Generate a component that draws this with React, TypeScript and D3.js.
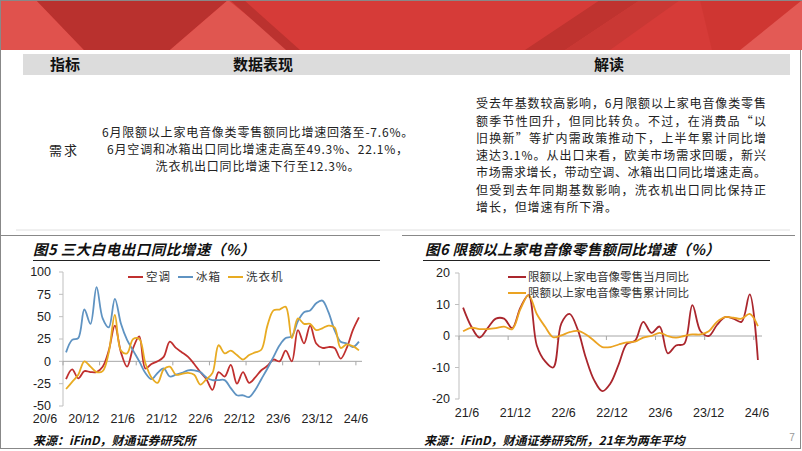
import React from "react";
import * as d3 from "d3";

// ---------- data ----------
const xTicks1 = ["20/6", "20/12", "21/6", "21/12", "22/6", "22/12", "23/6", "23/12", "24/6"];
const yTicks1 = [-50, -25, 0, 25, 50, 75, 100];
const seriesNames1 = ["空调", "冰箱", "洗衣机"];
// monthly, 2020/6 .. 2024/6
const airCon = [-20, -9, -19, -11, -12, -12, -6, 12, 40, 10, -6, 15, 28, -8, -3, 0, 5, 22, 15, 10, 5, -3, -12, -20, -32, -12, -17, -4, -25, -12, -24, -18, -10, -5, 2, 0, 12, 0, 35, 20, 40, 20, 15, 16, 15, 3, 15, 35, 49.3];
const fridge = [10, 24, 26, 58, 42, 83, 48, 38, 70, 42, 24, 12, 0, -13, -20, -13, -8, -17, -15, -13, -10, -10, -12, -18, -21, -21, -21, -30, -38, -38, -40, -32, -20, -8, 5, 18, 26, 28, 45, 55, 57, 65, 68, 55, 35, 22, 20, 16, 22.1];
const washer = [-31, -23, -15, 0, -6, -12, -11, 10, 52, 12, 9, 25, 25, -2, -18, -24, -9, -6, -15, -14, -13, -15, -26, -20, -13, 18, 9, 12, 7, 2, 7, 10, 13, 40, 57, 58, 61, 26, 48, 42, 42, 35, 37, 40, 38, 15, 19, 17, 12.3];

const xTicks2 = ["21/6", "21/12", "22/6", "22/12", "23/6", "23/12", "24/6"];
const yTicks2 = [-20, -10, 0, 10, 20];
const seriesNames2 = ["限额以上家电音像零售当月同比", "限额以上家电音像零售累计同比"];
// monthly, 2021/6 .. 2024/6
const retailMonthly = [9, 3, -0.5, 2.5, 5.5, 5.5, 2.5, 9, 13, -3, -8, -10, 4, 7, 2, -7, -14, -17.5, -15, -9, -2.5, -1.5, 4.5, 1, 3, -5.5, -3, -2.5, 9.8, 1.5, 0, 3.5, 6, 5.5, 4.5, 13.2, -7.6];
const retailCum = [1.5, 2.6, 2.2, 2.2, 2.5, 3, 2.2, 8.5, 13, 7, 3, -0.4, 0.2, 1.2, 1.6, 0.5, -1.5, -3.5, -3.5, -2.7, -2, -1.8, -0.5, 0, 1, 0, -0.5, 0, 0.5, 0.5, 1.5, 4.5, 6, 5.8, 5.5, 7, 3.1];

// ---------- text ----------
const headerCells = ["指标", "数据表现", "解读"];
const midLines = [
  "6月限额以上家电音像类零售额同比增速回落至-7.6%。",
  "6月空调和冰箱出口同比增速走高至49.3%、22.1%，",
  "洗衣机出口同比增速下行至12.3%。",
];
const rightLines = [
  "受去年基数较高影响，6月限额以上家电音像类零售",
  "额季节性回升，但同比转负。不过，在消费品“以",
  "旧换新”等扩内需政策推动下，上半年累计同比增",
  "速达3.1%。从出口来看，欧美市场需求回暖，新兴",
  "市场需求增长，带动空调、冰箱出口同比增速走高。",
  "但受到去年同期基数影响，洗衣机出口同比保持正",
  "增长，但增速有所下滑。",
];

const CJK = "'Noto Sans CJK SC', 'Noto Sans', sans-serif";
const NUM = "'Liberation Sans', Arial, sans-serif";
const RED1 = "#c0302f";
const BLUE1 = "#5f93c2";
const GOLD1 = "#e8ab22";
const RED2 = "#aa262d";
const GOLD2 = "#eba322";

function Chart1() {
  const n = airCon.length;
  const x = d3.scaleLinear().domain([0, n]).range([63, 362]);
  const xl = d3.scaleLinear().domain([0, xTicks1.length - 1]).range([45, 356]);
  const y = d3.scaleLinear().domain([-50, 100]).range([406, 272]);
  const line = d3
    .line<number>()
    .x((_, i) => x(i + 0.5))
    .y((d) => y(d))
    .curve(d3.curveCatmullRom.alpha(0.5));
  const series = [
    { name: seriesNames1[0], data: airCon, color: RED1 },
    { name: seriesNames1[1], data: fridge, color: BLUE1 },
    { name: seriesNames1[2], data: washer, color: GOLD1 },
  ];
  const legendX = [128, 178, 228];
  return (
    <g>
      <line x1={63} x2={63} y1={y(100)} y2={y(-50)} stroke="#bfbfbf" />
      {yTicks1.map((t) => (
        <g key={t}>
          <line x1={59} x2={63} y1={y(t)} y2={y(t)} stroke="#bfbfbf" />
          <text x={51} y={y(t)} dy="0.35em" textAnchor="end" fontFamily={NUM} fontSize={12.5} fill="#222">
            {t}
          </text>
        </g>
      ))}
      <line x1={63} x2={362} y1={y(0)} y2={y(0)} stroke="#a6a6a6" />
      {xTicks1.map((t, k) => (
        <g key={t}>
          <line x1={x(6 * k)} x2={x(6 * k)} y1={y(0)} y2={y(0) + 4} stroke="#a6a6a6" />
          <text x={xl(k)} y={419} dy="0.35em" textAnchor="middle" fontFamily={NUM} fontSize={12.5} fill="#222">
            {t}
          </text>
        </g>
      ))}
      {series.map((s) => (
        <path key={s.name} d={line(s.data) || ""} fill="none" stroke={s.color} strokeWidth={1.8} />
      ))}
      {series.map((s, k) => (
        <g key={"lg" + s.name}>
          <line x1={legendX[k]} x2={legendX[k] + 15} y1={277} y2={277} stroke={s.color} strokeWidth={2} />
          <text x={legendX[k] + 18} y={277} dy="0.35em" fontFamily={CJK} fontSize={11.5} fill="#333" letterSpacing={1}>
            {s.name}
          </text>
        </g>
      ))}
    </g>
  );
}

function Chart2() {
  const n = retailMonthly.length;
  const x = d3.scaleLinear().domain([0, n]).range([459, 762]);
  const xl = d3.scaleLinear().domain([0, xTicks2.length - 1]).range([467, 757]);
  const y = d3.scaleLinear().domain([-20, 20]).range([399, 273]);
  const line = d3
    .line<number>()
    .x((_, i) => x(i + 0.5))
    .y((d) => y(d))
    .curve(d3.curveCatmullRom.alpha(0.5));
  const series = [
    { name: seriesNames2[0], data: retailMonthly, color: RED2 },
    { name: seriesNames2[1], data: retailCum, color: GOLD2 },
  ];
  return (
    <g>
      <line x1={459} x2={459} y1={y(20)} y2={y(-20)} stroke="#bfbfbf" />
      {yTicks2.map((t) => (
        <g key={t}>
          <line x1={455} x2={459} y1={y(t)} y2={y(t)} stroke="#bfbfbf" />
          <text x={450} y={y(t)} dy="0.35em" textAnchor="end" fontFamily={NUM} fontSize={12.5} fill="#222">
            {t}
          </text>
        </g>
      ))}
      <line x1={459} x2={762} y1={y(0)} y2={y(0)} stroke="#a6a6a6" />
      {xTicks2.map((t, k) => (
        <g key={t}>
          <line x1={x(6 * k)} x2={x(6 * k)} y1={y(0)} y2={y(0) + 4} stroke="#a6a6a6" />
          <text x={xl(k)} y={413} dy="0.35em" textAnchor="middle" fontFamily={NUM} fontSize={12.5} fill="#222">
            {t}
          </text>
        </g>
      ))}
      {series.map((s) => (
        <path key={s.name} d={line(s.data) || ""} fill="none" stroke={s.color} strokeWidth={1.8} />
      ))}
      {series.map((s, k) => (
        <g key={"lg" + s.name}>
          <line x1={508} x2={526} y1={277 + 16 * k} y2={277 + 16 * k} stroke={s.color} strokeWidth={2} />
          <text x={528} y={277 + 16 * k} dy="0.35em" fontFamily={CJK} fontSize={11.5} fill="#333" letterSpacing={0}>
            {s.name}
          </text>
        </g>
      ))}
    </g>
  );
}

export default function App() {
  return (
    <svg
      width={802}
      height={451}
      viewBox="0 0 802 451"
      style={{ position: "absolute", left: 0, top: 0, background: "#fff" }}
    >
      {/* banner */}
      <rect x={0} y={0} width={802} height={50} fill="#d63b38" />
      <polygon points="0,0 36,0 84,50 0,50" fill="#e0524d" />
      <polygon points="36,0 228,0 170,50 84,50" fill="#b9312e" />
      <polygon points="170,50 228,0 290,50" fill="#e05650" />
      <polygon points="230,0 244,0 300,50 286,50" fill="#bb322f" />
      <polygon points="525,50 600,0 640,0 565,50" fill="#bf332f" />
      <polygon points="565,50 640,0 680,0 610,50" fill="#c93834" />
      <polygon points="740,50 802,0 802,50" fill="#e35a55" />
      <polygon points="700,0 802,0 802,0 740,50 712,50" fill="#c9342f" opacity={0.6} />
      <line x1={0} x2={802} y1={0.5} y2={0.5} stroke="#888" />

      {/* page frame */}
      <line x1={0.5} x2={0.5} y1={0} y2={449} stroke="#888" />
      <line x1={800.5} x2={800.5} y1={50} y2={449} stroke="#888" />
      <line x1={0} x2={801} y1={448.5} y2={448.5} stroke="#888" />

      {/* table header */}
      <rect x={23} y={54} width={767} height={21} fill="#dcdcdc" />
      {headerCells.map((h, i) => (
        <text
          key={h}
          x={[65, 263, 609][i]}
          y={64.5}
          dy="0.35em"
          textAnchor="middle"
          fontFamily={CJK}
          fontWeight="bold"
          fontSize={15}
          fill="#111"
        >
          {h}
        </text>
      ))}

      {/* table body */}
      <text x={64} y={150} dy="0.35em" textAnchor="middle" fontFamily={CJK} fontSize={13} fill="#222" letterSpacing={2}>
        需求
      </text>
      {midLines.map((l, i) => (
        <text key={i} x={258} y={133 + 17 * i} dy="0.35em" textAnchor="middle" fontFamily={CJK} fontSize={12} fill="#222" letterSpacing={0.8}>
          {l}
        </text>
      ))}
      {rightLines.map((l, i) => (
        <text
          key={i}
          x={476}
          y={104 + 17.3 * i}
          dy="0.35em"
          fontFamily={CJK}
          fontSize={12}
          fill="#222"
          {...(i < rightLines.length - 1 ? { textLength: 290, lengthAdjust: "spacing" } : { letterSpacing: 0.9 })}
        >
          {l}
        </text>
      ))}
      <line x1={16} x2={790} y1={230} y2={230} stroke="#e0e0e0" />

      {/* chart section frames */}
      <line x1={0} x2={380} y1={235.5} y2={235.5} stroke="#888" />
      <line x1={402} x2={795} y1={235.5} y2={235.5} stroke="#888" />
      <text x={33} y={250} dy="0.35em" fontFamily={CJK} fontWeight="bold" fontStyle="italic" fontSize={14.5} fill="#111" letterSpacing={0.5}>
        图5 三大白电出口同比增速（%）
      </text>
      <line x1={33} x2={380} y1={260.5} y2={260.5} stroke="#222" strokeWidth={1.2} />
      <text x={425} y={250} dy="0.35em" fontFamily={CJK} fontWeight="bold" fontStyle="italic" fontSize={14.5} fill="#111" letterSpacing={0.4}>
        图6 限额以上家电音像零售额同比增速（%）
      </text>
      <line x1={423} x2={770} y1={260.5} y2={260.5} stroke="#222" strokeWidth={1.2} />

      <Chart1 />
      <Chart2 />

      <text x={33} y={441} dy="0.35em" fontFamily={CJK} fontWeight="bold" fontStyle="italic" fontSize={12} fill="#111">
        来源：iFinD，财通证券研究所
      </text>
      <text x={424} y={441} dy="0.35em" fontFamily={CJK} fontWeight="bold" fontStyle="italic" fontSize={12} fill="#111">
        来源：iFinD，财通证券研究所，21年为两年平均
      </text>
      <text x={792} y={437} dy="0.35em" textAnchor="middle" fontFamily={NUM} fontSize={10} fill="#999">
        7
      </text>
    </svg>
  );
}
